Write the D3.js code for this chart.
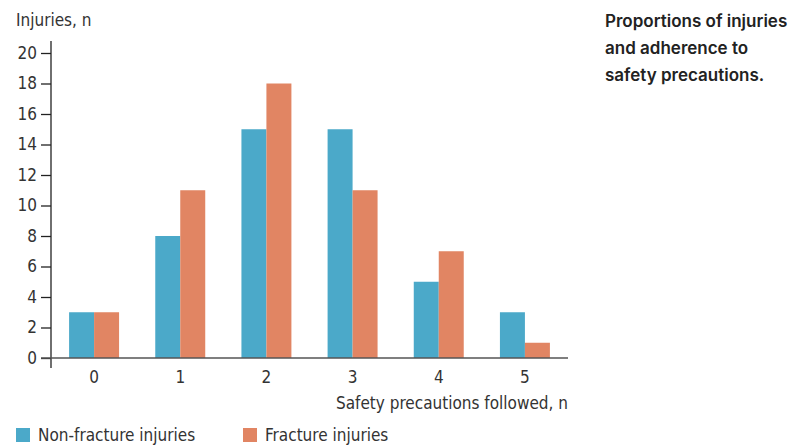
<!DOCTYPE html>
<html><head><meta charset="utf-8">
<script src="https://cdn.jsdelivr.net/npm/d3@7"></script>
<style>
body{margin:0;background:#fff;}
</style>
</head><body>
<svg id="c" width="805" height="446"></svg>
<script>
const categories = ["0","1","2","3","4","5"];
const nonFracture = [3,8,15,15,5,3];
const fracture = [3,11,18,11,7,1];
const yTicks = [0,2,4,6,8,10,12,14,16,18,20];
const seriesNames = ["Non-fracture injuries","Fracture injuries"];
const colors = ["#4BA9C9","#E18563"];

const svg = d3.select("#c");
const font = '"Liberation Sans Narrow","DejaVu Sans Condensed",sans-serif';
const txt = "#333";
const x0 = 51, x1 = 568, yTop = 53, yBot = 358;

const x = d3.scaleBand().domain(categories).range([x0, x1]).paddingInner(0.42).paddingOuter(0.21);
const xs = d3.scaleBand().domain([0,1]).range([0, x.bandwidth()]);
const y = d3.scaleLinear().domain([0,20]).range([yBot, yTop]);

// bars
const g = svg.append("g");
categories.forEach((c,i)=>{
  [nonFracture[i], fracture[i]].forEach((v,s)=>{
    g.append("rect").attr("x", x(c)+xs(s)).attr("y", y(v))
      .attr("width", xs.bandwidth()).attr("height", y(0)-y(v)).attr("fill", colors[s]);
  });
});

// y axis
const ya = svg.append("g").attr("transform",`translate(${x0},0)`)
  .call(d3.axisLeft(y).tickValues(yTicks).tickSize(10).tickSizeOuter(0));
ya.select(".domain").remove();
ya.append("line").attr("x1",0).attr("x2",0).attr("y1",41).attr("y2",368).attr("stroke","#222").attr("stroke-width",1.3);
ya.selectAll(".tick line").attr("stroke","#222").attr("stroke-width",1.3);
ya.selectAll(".tick text").attr("font-family",font).attr("font-size",17).attr("fill",txt).attr("x",-14);

// x axis
const xa = svg.append("g").attr("transform",`translate(0,${yBot})`)
  .call(d3.axisBottom(x).tickSize(0));
xa.select(".domain").remove();
xa.append("line").attr("x1",41).attr("x2",x1).attr("y1",0).attr("y2",0).attr("stroke","#555").attr("stroke-width",1.5);
xa.selectAll(".tick text").attr("font-family",font).attr("font-size",17).attr("fill",txt).attr("dy","1.3em");

// axis titles
svg.append("text").attr("x",16).attr("y",26).attr("font-family",font).attr("font-size",17).attr("fill",txt).text("Injuries, n");
svg.append("text").attr("x",x1).attr("y",409).attr("text-anchor","end").attr("font-family",font).attr("font-size",17).attr("fill",txt).text("Safety precautions followed, n");

// legend
const legX = [16, 243];
seriesNames.forEach((n,i)=>{
  svg.append("rect").attr("x",legX[i]).attr("y",428).attr("width",14).attr("height",14).attr("fill",colors[i]);
  svg.append("text").attr("x",legX[i]+22).attr("y",441).attr("font-family",font).attr("font-size",17).attr("fill",txt).text(n);
});

// title
const title = ["Proportions of injuries","and adherence to","safety precautions."];
title.forEach((t,i)=>{
  svg.append("text").attr("x",605).attr("y",27+i*27).attr("font-family","Inter, 'Noto Sans', sans-serif")
    .attr("font-weight",600).attr("font-size",17).attr("fill","#222").text(t);
});
</script>
</body></html>
